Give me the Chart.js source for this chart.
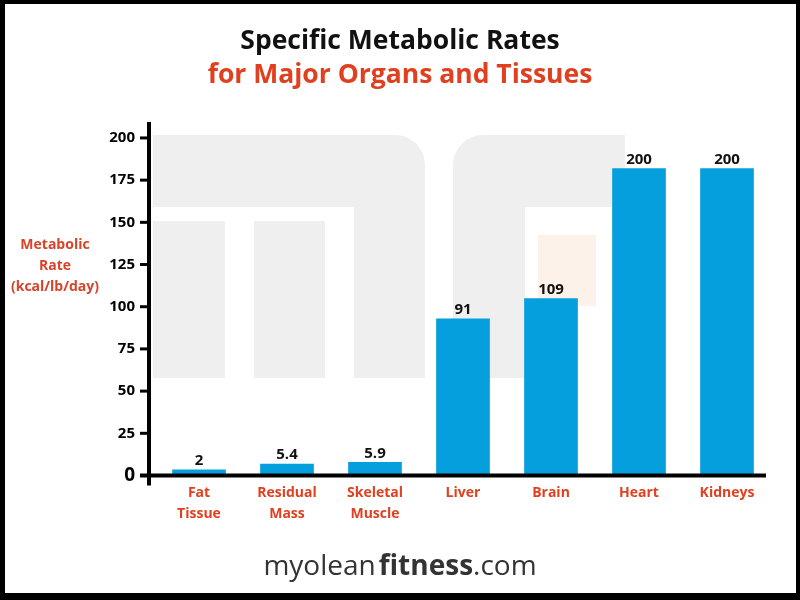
<!DOCTYPE html>
<html>
<head>
<meta charset="utf-8">
<title>Specific Metabolic Rates</title>
<script src="https://cdn.jsdelivr.net/npm/chart.js@4.4.1/dist/chart.umd.min.js"></script>
<style>
  html, body { margin: 0; padding: 0; background: #fff; }
  #wrap { position: relative; width: 800px; height: 600px; overflow: hidden; background: #fff; }
  #chart { position: absolute; left: 0; top: 0; }
  #frame {
    position: absolute; left: 0; top: 0; width: 800px; height: 600px;
    box-sizing: border-box; border: solid #000; border-width: 4px 4px 7px 5px;
    pointer-events: none;
  }
  #ytitle {
    position: absolute; left: 5px; width: 100px; top: 233px;
    text-align: center; color: #d8432a;
    font: bold 14px 'Open Sans', sans-serif; line-height: 21px;
  }
  #footer {
    position: absolute; left: 0; width: 800px; top: 545px;
    text-align: center; color: #333;
    font: 28px 'Open Sans', sans-serif; line-height: 38px;
  }
  #footer b { font-weight: 700; margin-left: 3px; }
</style>
</head>
<body>
<div id="wrap">
  <canvas id="chart" width="800" height="600"></canvas>
  <div id="ytitle">Metabolic<br>Rate<br>(kcal/lb/day)</div>
  <div id="footer">myolean<b>fitness</b>.com</div>
  <div id="frame"></div>
</div>
<script>
const categories = [['Fat', 'Tissue'], ['Residual', 'Mass'], ['Skeletal', 'Muscle'], 'Liver', 'Brain', 'Heart', 'Kidneys'];
// heights the bars are drawn at in the picture (the artwork is not to scale with its labels)
const barHeights = [3.5, 7, 8, 93, 105, 182, 182];
// numbers printed above the bars
const valueLabels = ['2', '5.4', '5.9', '91', '109', '200', '200'];
const yTicks = [0, 25, 50, 75, 100, 125, 150, 175, 200];

const BLUE = '#049fdc';
const RED = '#e0401f';
const FONT = "'Open Sans'";

// faint "mf" logo behind the bars
const watermark = {
    id: 'watermark',
    beforeDatasetsDraw(chart) {
        const ctx = chart.ctx;
        ctx.save();
        ctx.fillStyle = '#efefef';
        ctx.beginPath();
        ctx.roundRect(153, 135, 272, 72, [0, 30, 0, 0]);
        ctx.rect(354, 207, 71, 171);
        ctx.rect(153, 221, 72, 157);
        ctx.rect(254, 221, 71, 157);
        ctx.roundRect(453, 135, 172, 72, [30, 0, 0, 0]);
        ctx.rect(453, 207, 72, 171);
        ctx.fill();
        ctx.fillStyle = '#fcf2ea';
        ctx.fillRect(538, 235, 58, 71);
        ctx.restore();
    }
};

// thick black axes with outward ticks, offset a little left of the plot
const axisLines = {
    id: 'axisLines',
    afterDatasetsDraw(chart) {
        const { ctx, chartArea } = chart;
        const y = chart.scales.y;
        const ax = chartArea.left - 6;
        const y0 = y.getPixelForValue(0);
        ctx.save();
        ctx.strokeStyle = '#000';
        ctx.lineWidth = 4;
        ctx.beginPath();
        ctx.moveTo(ax, chartArea.top - 16);
        ctx.lineTo(ax, y0 + 10);
        ctx.stroke();
        ctx.lineWidth = 3;
        y.ticks.forEach(t => {
            const py = y.getPixelForValue(t.value);
            ctx.beginPath();
            ctx.moveTo(ax - 9, py);
            ctx.lineTo(ax, py);
            ctx.stroke();
        });
        ctx.lineWidth = 4;
        ctx.beginPath();
        ctx.moveTo(ax - 9, y0);
        ctx.lineTo(chartArea.right - 5, y0);
        ctx.stroke();
        ctx.restore();
    }
};

// value labels above each bar
const barValues = {
    id: 'barValues',
    afterDatasetsDraw(chart) {
        const ctx = chart.ctx;
        const meta = chart.getDatasetMeta(0);
        ctx.save();
        ctx.fillStyle = '#111';
        ctx.font = "bold 15px 'Open Sans', sans-serif";
        ctx.textAlign = 'center';
        ctx.textBaseline = 'bottom';
        meta.data.forEach((bar, i) => {
            ctx.fillText(valueLabels[i], bar.x, bar.y - 1);
        });
        ctx.restore();
    }
};

const chart = new Chart(document.getElementById('chart').getContext('2d'), {
    type: 'bar',
    data: {
        labels: categories,
        datasets: [{
            data: barHeights,
            backgroundColor: BLUE,
            borderWidth: 0,
            barPercentage: 0.61,
            categoryPercentage: 1.0
        }]
    },
    options: {
        responsive: false,
        animation: false,
        layout: {
            padding: 0
        },
        plugins: {
            legend: { display: false },
            tooltip: { enabled: false },
            title: {
                display: true,
                text: 'Specific Metabolic Rates',
                color: '#111',
                font: { family: FONT, size: 26.5, weight: 'bold', lineHeight: 1.15 },
                padding: { top: 26, bottom: 4 }
            },
            subtitle: {
                display: true,
                text: 'for Major Organs and Tissues',
                color: RED,
                font: { family: FONT, size: 26.5, weight: 'bold', lineHeight: 1.15 },
                padding: { top: 0, bottom: 47 }
            }
        },
        scales: {
            x: {
                grid: { display: false, drawTicks: false },
                border: { display: false },
                ticks: {
                    color: RED,
                    font: { family: FONT, size: 14, weight: 'bold', lineHeight: 1.5 },
                    padding: 7,
                    maxRotation: 0,
                    autoSkip: false
                },
                afterFit(scale) { scale.height = 124.5; }
            },
            y: {
                min: 0,
                max: 200,
                grid: { display: false, drawTicks: false },
                border: { display: false },
                afterBuildTicks(scale) {
                    scale.ticks = yTicks.map(v => ({ value: v }));
                },
                ticks: {
                    color: '#000',
                    padding: 20,
                    font: ctx => ({
                        family: FONT,
                        weight: 'bold',
                        size: ctx.tick && ctx.tick.value === 0 ? 19 : 15
                    })
                },
                afterFit(scale) { scale.width = 155; }
            },
            // empty right-hand margin so the titles stay centred on the canvas
            gap: {
                type: 'linear',
                position: 'right',
                grid: { display: false, drawTicks: false },
                border: { display: false },
                ticks: { display: false },
                afterFit(scale) { scale.width = 29; }
            }
        }
    },
    plugins: [watermark, axisLines, barValues]
});
</script>
</body>
</html>
